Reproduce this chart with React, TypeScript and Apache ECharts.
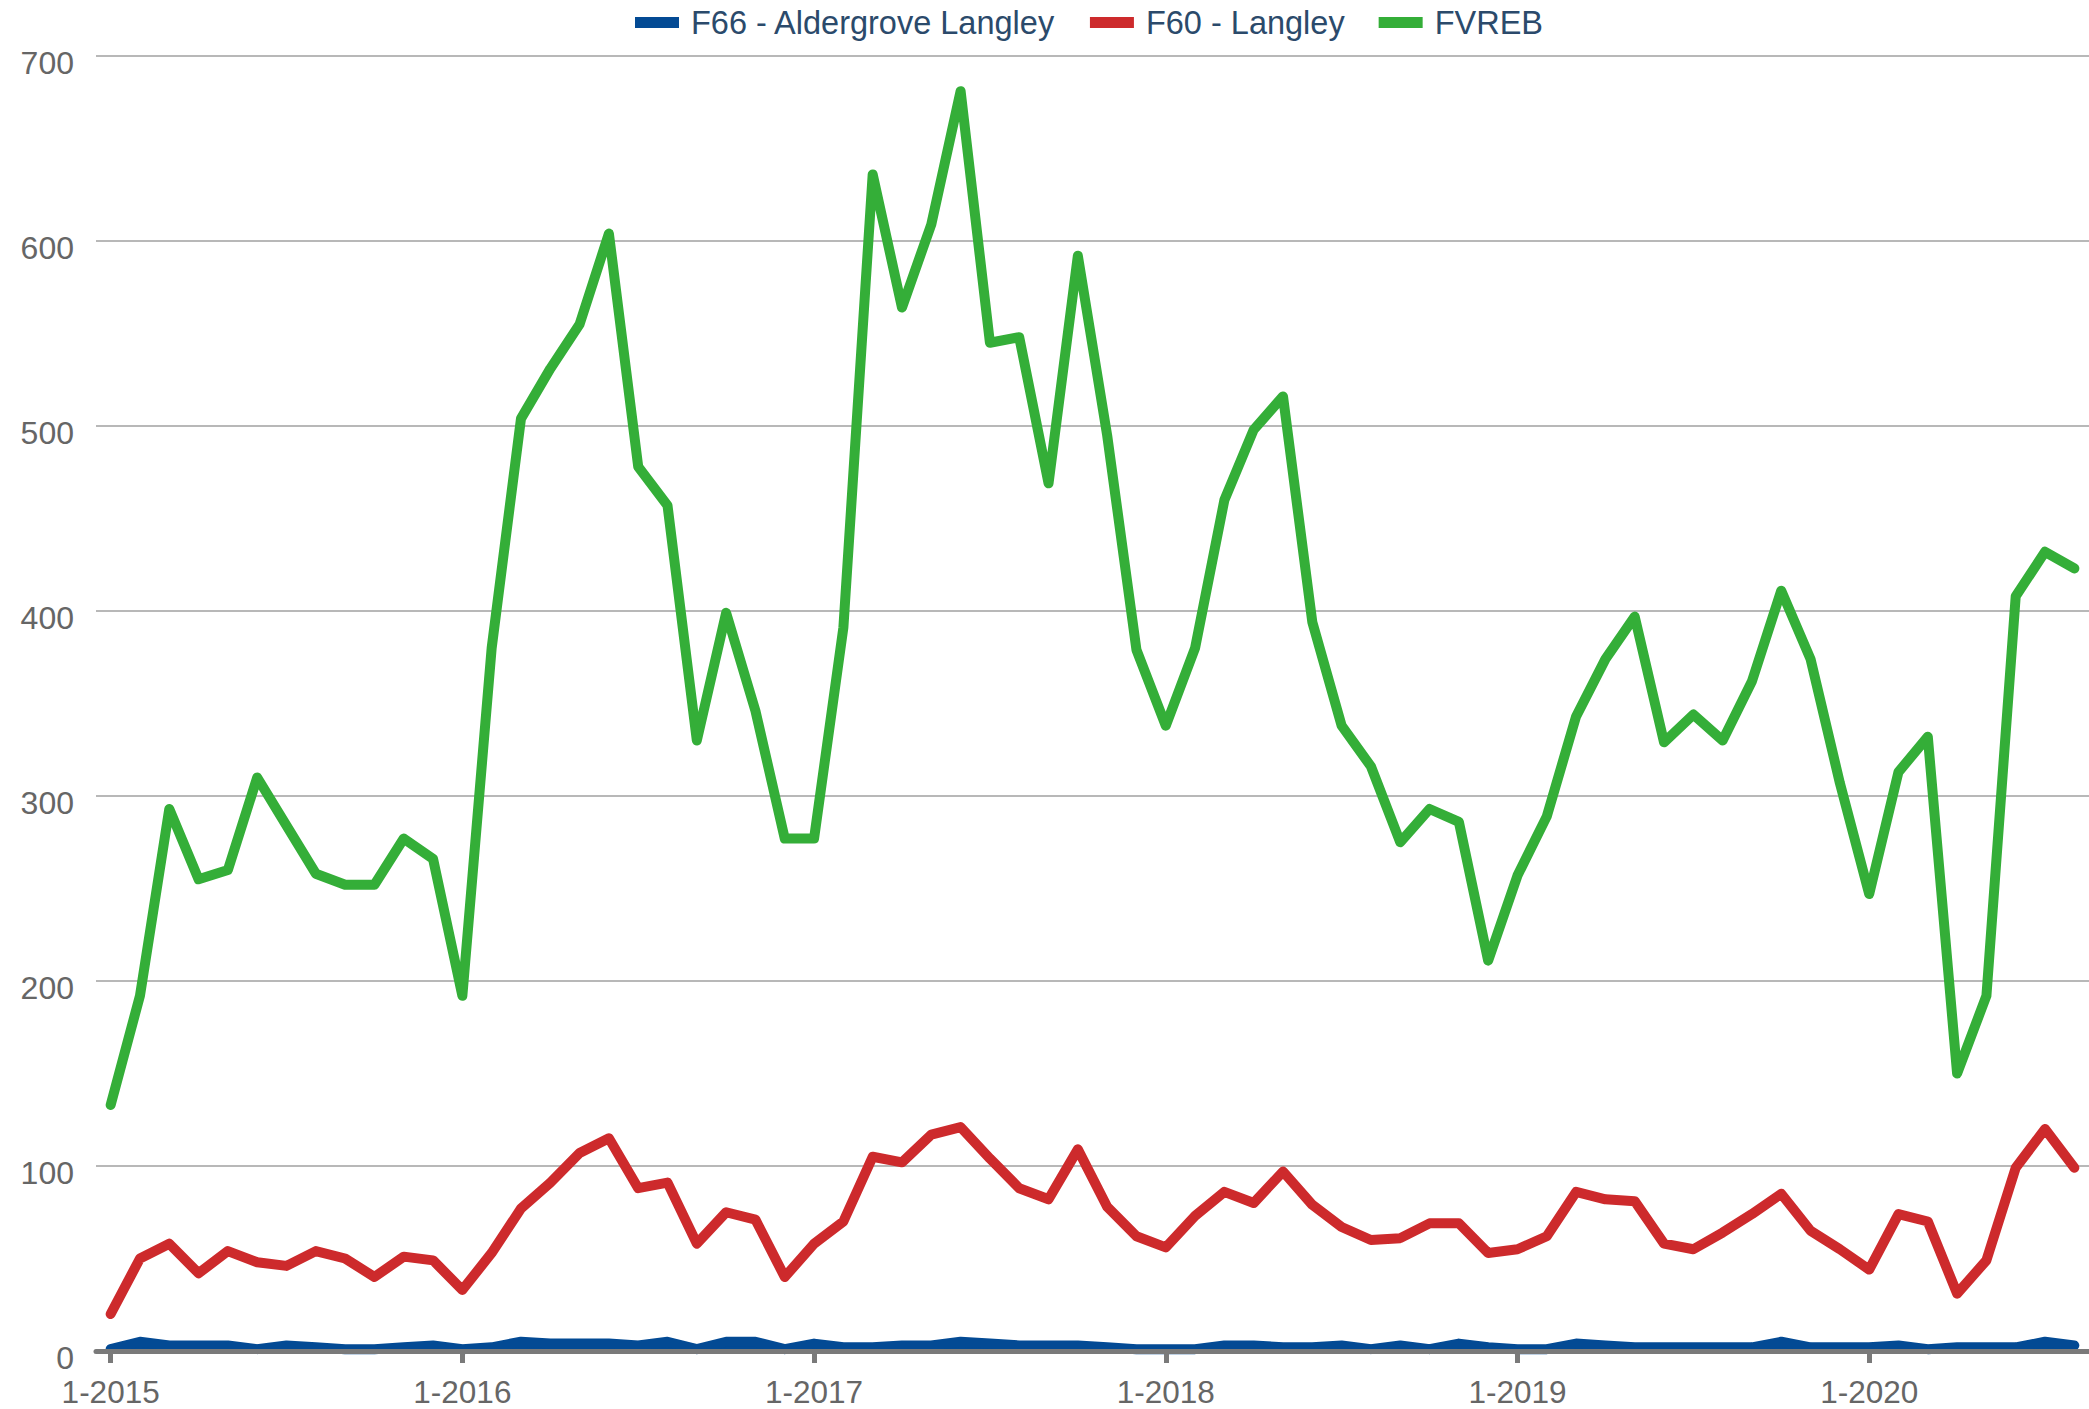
import React, { useEffect, useRef } from "react";
import * as echarts from "echarts";

const categories = [
  "1-2015","2-2015","3-2015","4-2015","5-2015","6-2015","7-2015","8-2015","9-2015","10-2015","11-2015","12-2015",
  "1-2016","2-2016","3-2016","4-2016","5-2016","6-2016","7-2016","8-2016","9-2016","10-2016","11-2016","12-2016",
  "1-2017","2-2017","3-2017","4-2017","5-2017","6-2017","7-2017","8-2017","9-2017","10-2017","11-2017","12-2017",
  "1-2018","2-2018","3-2018","4-2018","5-2018","6-2018","7-2018","8-2018","9-2018","10-2018","11-2018","12-2018",
  "1-2019","2-2019","3-2019","4-2019","5-2019","6-2019","7-2019","8-2019","9-2019","10-2019","11-2019","12-2019",
  "1-2020","2-2020","3-2020","4-2020","5-2020","6-2020","7-2020","8-2020",
];

const f66Aldergrove = [
  1, 5, 3, 3, 3, 1, 3, 2, 1, 1, 2, 3,
  1, 2, 5, 4, 4, 4, 3, 5, 1, 5, 5, 1,
  4, 2, 2, 3, 3, 5, 4, 3, 3, 3, 2, 1,
  1, 1, 3, 3, 2, 2, 3, 1, 3, 1, 4, 2,
  1, 1, 4, 3, 2, 2, 2, 2, 2, 5, 2, 2,
  2, 3, 1, 2, 2, 2, 5, 3,
];

const f60Langley = [
  20, 50, 58, 42, 54, 48, 46, 54, 50, 40, 51, 49,
  33, 53, 77, 91, 107, 115, 88, 91, 58, 75, 71, 40,
  58, 70, 105, 102, 117, 121, 104, 88, 82, 109, 78, 62,
  56, 73, 86, 80, 97, 79, 67, 60, 61, 69, 69, 53,
  55, 62, 86, 82, 81, 58, 55, 64, 74, 85, 65, 55,
  44, 74, 70, 31, 49, 99, 120, 99,
];

const fvreb = [
  133, 192, 293, 255, 260, 310, 284, 258, 252, 252, 277, 266,
  192, 380, 504, 531, 555, 604, 478, 457, 330, 399, 346, 277,
  277, 391, 636, 564, 609, 681, 545, 548, 469, 592, 495, 379,
  338, 380, 460, 498, 516, 394, 338, 316, 275, 293, 286, 211,
  257, 289, 343, 374, 397, 329, 344, 330, 362, 411, 374, 307,
  247, 313, 332, 150, 192, 408, 432, 423,
];

const yTicks = [0, 100, 200, 300, 400, 500, 600, 700];

const seriesNames = ["F66 - Aldergrove Langley", "F60 - Langley", "FVREB"];
const seriesColors = ["#034a94", "#cd2a2c", "#34ae38"];

export default function App() {
  const ref = useRef<HTMLDivElement>(null);

  useEffect(() => {
    if (!ref.current) return;
    const chart = echarts.init(ref.current, null, { renderer: "svg" });
    const font = "'Liberation Sans', Arial, sans-serif";
    const datasets = [f66Aldergrove, f60Langley, fvreb];
    chart.setOption({
      animation: false,
      backgroundColor: "#ffffff",
      color: seriesColors,
      legend: {
        data: seriesNames,
        left: 630,
        top: 1,
        icon: "rect",
        itemWidth: 44,
        itemHeight: 11,
        itemGap: 34,
        textStyle: {
          fontFamily: font,
          fontSize: 32.5,
          color: "#2b4a6b",
          padding: [0, 0, 0, 7],
        },
      },
      grid: {
        left: 96,
        right: -2,
        top: 56,
        bottom: 58,
        containLabel: false,
      },
      xAxis: {
        type: "category",
        data: categories,
        boundaryGap: true,
        z: 10,
        axisLine: { show: true, lineStyle: { color: "#7a7a7a", width: 5 } },
        axisTick: {
          show: true,
          alignWithLabel: true,
          interval: 11,
          length: 12,
          lineStyle: { color: "#7a7a7a", width: 5 },
        },
        axisLabel: {
          interval: 11,
          margin: 27,
          lineHeight: 28,
          verticalAlign: "top",
          fontFamily: font,
          fontSize: 31.5,
          color: "#666666",
        },
        splitLine: { show: false },
      },
      yAxis: {
        type: "value",
        min: yTicks[0],
        max: yTicks[yTicks.length - 1],
        interval: 100,
        axisLine: { show: false },
        axisTick: { show: false },
        axisLabel: {
          margin: 22,
          fontFamily: font,
          fontSize: 32,
          color: "#666666",
          verticalAlign: "top",
          lineHeight: 14,
        },
        splitLine: { show: true, lineStyle: { color: "#b8b8b8", width: 2 } },
      },
      series: seriesNames.map((name, i) => ({
        name,
        type: "line",
        data: datasets[i],
        showSymbol: false,
        symbol: "none",
        lineStyle: { width: 10, color: seriesColors[i], cap: "round", join: "round" },
        itemStyle: { color: seriesColors[i] },
        areaStyle: i === 0 ? { color: seriesColors[i], opacity: 1 } : undefined,
        z: 2 + i,
      })),
    });
    return () => chart.dispose();
  }, []);

  return (
    <div
      ref={ref}
      style={{ position: "absolute", left: 0, top: 0, width: 2089, height: 1409 }}
    />
  );
}
